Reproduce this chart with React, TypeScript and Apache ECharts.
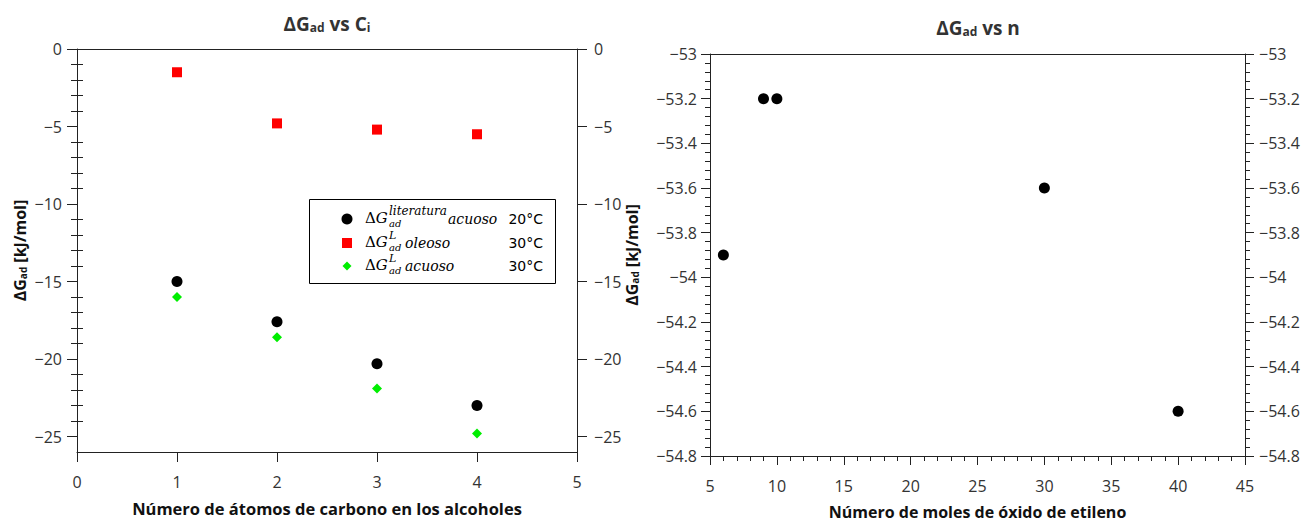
import React, { useEffect, useRef } from "react";
import * as echarts from "echarts";

// ---------- data ----------
const CARBON_ATOMS = [1, 2, 3, 4];
const DG_LITERATURA_ACUOSO = [-15.0, -17.6, -20.3, -23.0];
const DG_L_OLEOSO = [-1.5, -4.8, -5.2, -5.5];
const DG_L_ACUOSO = [-16.0, -18.6, -21.9, -24.8];

const MOLES_OE = [6, 9, 10, 30, 40];
const DG_MOLES = [-53.9, -53.2, -53.2, -53.6, -54.6];

const LEFT_Y_MAJOR = [0, -5, -10, -15, -20, -25];
const LEFT_Y_MINOR = [
  -1, -2, -3, -4, -6, -7, -8, -9, -11, -12, -13, -14, -16, -17, -18, -19,
  -21, -22, -23, -24,
];

const TITLE_LEFT = "{a|ΔG}{b|ad}{a| vs C}{b|i}";
const TITLE_RIGHT = "{a|ΔG}{b|ad}{a| vs n}";
const Y_NAME = "{a|ΔG}{b|ad}{a| [kJ/mol]}";
const X_NAME_LEFT = "Número de átomos de carbono en los alcoholes";
const X_NAME_RIGHT = "Número de moles de óxido de etileno";

const FONT = "'Open Sans', 'Noto Sans', sans-serif";
const MATH = "'DejaVu Serif', serif";
const LINE = "#222";
const LABEL = "#333";

const minus = (v: number) => {
  const r = Math.round(v * 100) / 100;
  return r < 0 ? "\u2212" + String(Math.abs(r)) : String(r);
};

const nameRich = {
  a: { fontSize: 16, fontWeight: "bold", fontFamily: FONT, color: "#111", lineHeight: 22, verticalAlign: "bottom" },
  b: { fontSize: 10, fontWeight: "bold", fontFamily: FONT, color: "#111", lineHeight: 11, verticalAlign: "bottom" },
};

const titleRich = {
  a: { fontSize: 19, fontWeight: "bold", fontFamily: FONT, fill: "#333", lineHeight: 26, verticalAlign: "bottom" },
  b: { fontSize: 12, fontWeight: "bold", fontFamily: FONT, fill: "#333", lineHeight: 13, verticalAlign: "bottom" },
};

function yAxisBase(extra: any) {
  return {
    type: "value",
    axisLine: { show: true, onZero: false, lineStyle: { color: LINE, width: 1 } },
    splitLine: { show: false },
    ...extra,
  };
}

export default function App() {
  const ref = useRef<HTMLDivElement>(null);

  useEffect(() => {
    if (!ref.current) return;
    const chart = echarts.init(ref.current, undefined, { renderer: "svg" });

    const labelStyle = { fontSize: 16, color: LABEL, fontFamily: FONT };

    const legendRows = [
      { y: 219, sup: "literatura", supSize: 12, tail: "acuoso", tailX: 448, temp: "20°C" },
      { y: 243, sup: "L", supSize: 11, tail: "oleoso", tailX: 405, temp: "30°C" },
      { y: 266, sup: "L", supSize: 11, tail: "acuoso", tailX: 405, temp: "30°C" },
    ];

    const legendTexts: any[] = [];
    legendRows.forEach((r) => {
      legendTexts.push({
        type: "text",
        x: 365,
        y: r.y - 1,
        style: {
          text: "{u|Δ}{i|G}",
          rich: {
            u: { fontSize: 15, fontFamily: MATH, fill: "#000", lineHeight: 15 },
            i: { fontSize: 15, fontFamily: MATH, fontStyle: "italic", fill: "#000", lineHeight: 15 },
          },
          verticalAlign: "middle",
          align: "left",
        },
      });
      legendTexts.push({
        type: "text",
        x: 389,
        y: r.y - 8,
        style: { text: r.sup, fontSize: r.supSize, lineHeight: 9, fontFamily: MATH, fontStyle: "italic", fill: "#000", verticalAlign: "middle" },
      });
      legendTexts.push({
        type: "text",
        x: 389,
        y: r.y + 4,
        style: { text: "ad", fontSize: 10, lineHeight: 8, fontFamily: MATH, fontStyle: "italic", fill: "#000", verticalAlign: "middle" },
      });
      legendTexts.push({
        type: "text",
        x: r.tailX,
        y: r.y,
        style: { text: r.tail, fontSize: 14, lineHeight: 14, fontFamily: MATH, fontStyle: "italic", fill: "#000", verticalAlign: "middle" },
      });
      legendTexts.push({
        type: "text",
        x: 543,
        y: r.y,
        style: { text: r.temp, fontSize: 14, lineHeight: 14, fontFamily: "'DejaVu Sans', sans-serif", fill: "#000", verticalAlign: "middle", align: "right" },
      });
    });

    const option: any = {
      animation: false,
      backgroundColor: "#fff",
      grid: [
        { left: 77, top: 49, width: 500, height: 403, containLabel: false },
        { left: 710, top: 54, width: 535, height: 404, containLabel: false },
      ],
      xAxis: [
        {
          gridIndex: 0,
          type: "value",
          min: 0,
          max: 5,
          interval: 1,
          position: "bottom",
          axisLine: { show: true, onZero: false, lineStyle: { color: LINE, width: 1 } },
          axisTick: { show: true, length: 10, lineStyle: { color: LINE } },
          axisLabel: { ...labelStyle, margin: 22 },
          splitLine: { show: false },
          name: X_NAME_LEFT,
          nameLocation: "middle",
          nameGap: 48,
          nameTextStyle: { fontSize: 16.5, fontWeight: "bold", fontFamily: FONT, color: "#111" },
        },
        {
          gridIndex: 0,
          type: "value",
          min: 0,
          max: 5,
          position: "top",
          axisLine: { show: true, onZero: false, lineStyle: { color: LINE, width: 1 } },
          axisTick: { show: false },
          axisLabel: { show: false },
          splitLine: { show: false },
        },
        {
          gridIndex: 1,
          type: "value",
          min: 5,
          max: 45,
          interval: 5,
          position: "bottom",
          axisLine: { show: true, onZero: false, lineStyle: { color: LINE, width: 1 } },
          axisTick: { show: true, length: 9, lineStyle: { color: LINE } },
          minorTick: { show: true, splitNumber: 5, length: 5, lineStyle: { color: LINE } },
          axisLabel: { ...labelStyle, margin: 22 },
          splitLine: { show: false },
          name: X_NAME_RIGHT,
          nameLocation: "middle",
          nameGap: 48,
          nameTextStyle: { fontSize: 16, fontWeight: "bold", fontFamily: FONT, color: "#111" },
        },
        {
          gridIndex: 1,
          type: "value",
          min: 5,
          max: 45,
          position: "top",
          axisLine: { show: true, onZero: false, lineStyle: { color: LINE, width: 1 } },
          axisTick: { show: false },
          axisLabel: { show: false },
          splitLine: { show: false },
        },
      ],
      yAxis: [
        yAxisBase({
          gridIndex: 0,
          min: -26,
          max: 0,
          position: "left",
          axisTick: { show: true, length: 10, customValues: LEFT_Y_MAJOR, lineStyle: { color: LINE } },
          axisLabel: { ...labelStyle, margin: 15, customValues: LEFT_Y_MAJOR, formatter: (v: number) => minus(v) },
          name: Y_NAME,
          nameLocation: "middle",
          nameGap: 49,
          nameTextStyle: { rich: nameRich },
        }),
        yAxisBase({
          gridIndex: 0,
          min: -26,
          max: 0,
          position: "left",
          axisLine: { show: false },
          axisTick: { show: true, length: 6, customValues: LEFT_Y_MINOR, lineStyle: { color: LINE } },
          axisLabel: { show: false },
        }),
        yAxisBase({
          gridIndex: 0,
          min: -26,
          max: 0,
          position: "right",
          axisTick: { show: true, length: 10, customValues: LEFT_Y_MAJOR, lineStyle: { color: LINE } },
          axisLabel: { ...labelStyle, margin: 17, customValues: LEFT_Y_MAJOR, formatter: (v: number) => minus(v) },
        }),
        yAxisBase({
          gridIndex: 0,
          min: -26,
          max: 0,
          position: "right",
          axisLine: { show: false },
          axisTick: { show: true, length: 6, customValues: LEFT_Y_MINOR, lineStyle: { color: LINE } },
          axisLabel: { show: false },
        }),
        yAxisBase({
          gridIndex: 1,
          min: -54.8,
          max: -53,
          interval: 0.2,
          position: "left",
          axisTick: { show: true, length: 9, lineStyle: { color: LINE } },
          minorTick: { show: true, splitNumber: 5, length: 5, lineStyle: { color: LINE } },
          axisLabel: { ...labelStyle, margin: 13, formatter: (v: number) => minus(v) },
          name: Y_NAME,
          nameLocation: "middle",
          nameGap: 70,
          nameTextStyle: { rich: nameRich },
        }),
        yAxisBase({
          gridIndex: 1,
          min: -54.8,
          max: -53,
          interval: 0.2,
          position: "right",
          axisTick: { show: true, length: 9, lineStyle: { color: LINE } },
          minorTick: { show: true, splitNumber: 5, length: 5, lineStyle: { color: LINE } },
          axisLabel: { ...labelStyle, margin: 14, formatter: (v: number) => minus(v) },
        }),
      ],
      series: [
        {
          type: "scatter",
          name: "ΔG literatura acuoso 20°C",
          xAxisIndex: 0,
          yAxisIndex: 0,
          symbol: "circle",
          symbolSize: 11,
          itemStyle: { color: "#000", opacity: 1 },
          data: CARBON_ATOMS.map((x, i) => [x, DG_LITERATURA_ACUOSO[i]]),
        },
        {
          type: "scatter",
          name: "ΔG L oleoso 30°C",
          xAxisIndex: 0,
          yAxisIndex: 0,
          symbol: "rect",
          symbolSize: 10,
          itemStyle: { color: "#ff0000", opacity: 1 },
          data: CARBON_ATOMS.map((x, i) => [x, DG_L_OLEOSO[i]]),
        },
        {
          type: "scatter",
          name: "ΔG L acuoso 30°C",
          xAxisIndex: 0,
          yAxisIndex: 0,
          symbol: "diamond",
          symbolSize: 10,
          itemStyle: { color: "#00ee00", opacity: 1 },
          data: CARBON_ATOMS.map((x, i) => [x, DG_L_ACUOSO[i]]),
        },
        {
          type: "scatter",
          name: "ΔG vs n",
          xAxisIndex: 2,
          yAxisIndex: 4,
          symbol: "circle",
          symbolSize: 11,
          itemStyle: { color: "#000", opacity: 1 },
          data: MOLES_OE.map((x, i) => [x, DG_MOLES[i]]),
        },
      ],
      graphic: [
        {
          type: "text",
          x: 327,
          y: 20,
          style: { text: TITLE_LEFT, align: "center", verticalAlign: "middle", rich: titleRich },
        },
        {
          type: "text",
          x: 978,
          y: 24,
          style: { text: TITLE_RIGHT, align: "center", verticalAlign: "middle", rich: titleRich },
        },
        {
          type: "group",
          z: 100,
          children: [
            {
              type: "rect",
              shape: { x: 309.5, y: 199.5, width: 246, height: 84 },
              style: { fill: "#fff", stroke: "#000", lineWidth: 1 },
            },
            { type: "circle", shape: { cx: 347, cy: 219, r: 5.5 }, style: { fill: "#000" } },
            { type: "rect", shape: { x: 342, y: 238, width: 10, height: 10 }, style: { fill: "#ff0000" } },
            {
              type: "polygon",
              shape: { points: [[347, 261.5], [351.5, 266], [347, 270.5], [342.5, 266]] },
              style: { fill: "#00ee00" },
            },
            ...legendTexts,
          ],
        },
      ],
    };

    chart.setOption(option);
    return () => chart.dispose();
  }, []);

  return (
    <div
      ref={ref}
      style={{ position: "absolute", left: 0, top: 0, width: 1308, height: 525, background: "#fff" }}
    />
  );
}
